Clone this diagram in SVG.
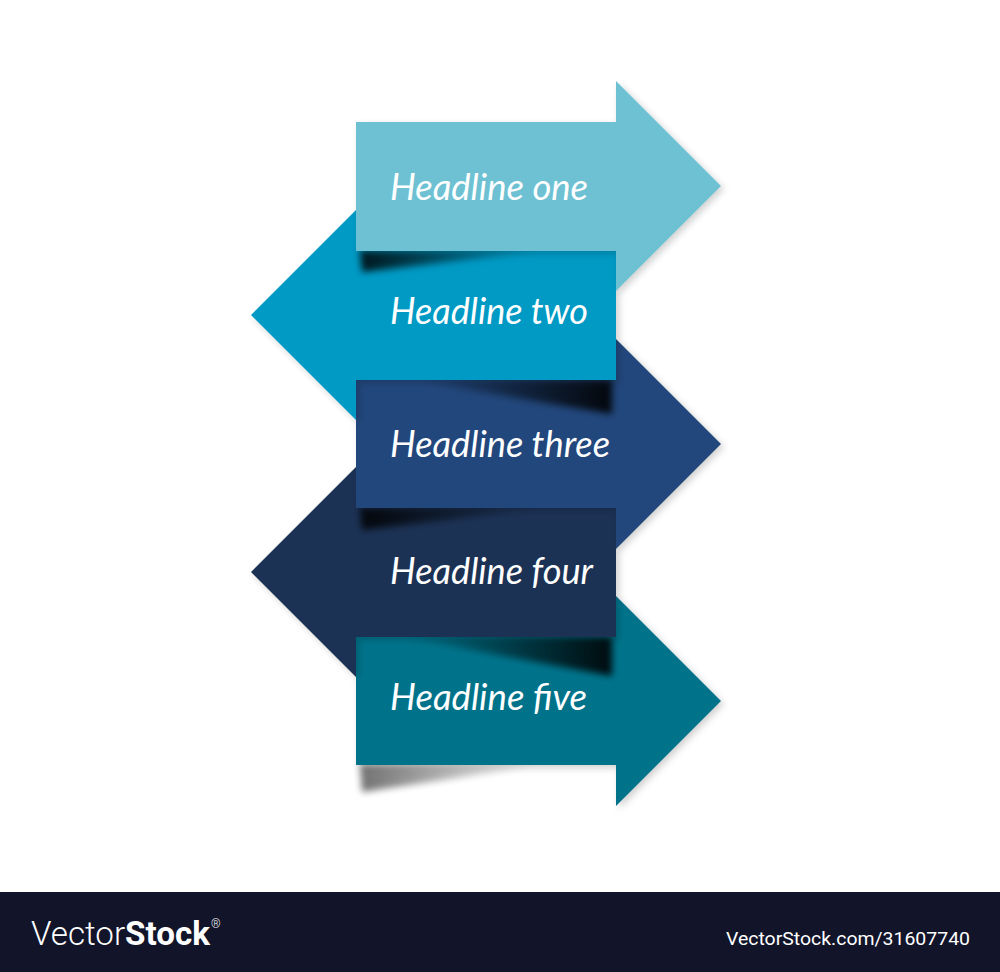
<svg xmlns="http://www.w3.org/2000/svg" width="1000" height="972" viewBox="0 0 1000 972">
  <style>
    .hl { font-family: Lato, "Open Sans", "Liberation Sans", sans-serif; font-style: italic; font-size: 36px; fill: #ffffff; }
    .logo { font-family: Roboto, "Liberation Sans", sans-serif; fill: #ffffff; }
  </style>
  <defs>
    <filter id="drop" x="-10%" y="-10%" width="130%" height="130%">
      <feDropShadow dx="3" dy="3" stdDeviation="3.5" flood-color="#000" flood-opacity="0.18"/>
    </filter>
    <filter id="blur" x="-20%" y="-60%" width="140%" height="220%">
      <feGaussianBlur stdDeviation="3.5"/>
    </filter>
    <linearGradient id="shL" x1="0" y1="0" x2="1" y2="0">
      <stop offset="0" stop-color="#000" stop-opacity="0.85"/>
      <stop offset="0.3" stop-color="#000" stop-opacity="0.6"/>
      <stop offset="1" stop-color="#000" stop-opacity="0"/>
    </linearGradient>
    <linearGradient id="shR" x1="0" y1="0" x2="1" y2="0">
      <stop offset="0" stop-color="#000" stop-opacity="0"/>
      <stop offset="0.6" stop-color="#000" stop-opacity="0.55"/>
      <stop offset="1" stop-color="#000" stop-opacity="0.9"/>
    </linearGradient>
  </defs>

  <rect x="0" y="0" width="1000" height="972" fill="#ffffff"/>

  <!-- Arrow 5 (bottom, drawn first) -->
  <g id="arrow5">
    <polygon points="360,765 545,765 362,792" fill="url(#shL)" filter="url(#blur)" opacity="0.65"/>
    <path d="M356,637 H616 V596 L721,701 L616,806 V765 H356 Z" fill="#06738b" filter="url(#drop)"/>
    <text class="hl" x="390" y="710" textLength="197" lengthAdjust="spacingAndGlyphs">Headline five</text>
  </g>

  <!-- Arrow 4 -->
  <g id="arrow4">
    <polygon points="400,637 612,637 612,676" fill="url(#shR)" filter="url(#blur)"/>
    <path d="M616,508 V637 H356 V677 L251,572 L356,467 V508 Z" fill="#1b3254" filter="url(#drop)"/>
    <text class="hl" x="390" y="584" textLength="203" lengthAdjust="spacingAndGlyphs">Headline four</text>
  </g>

  <!-- Arrow 3 -->
  <g id="arrow3">
    <polygon points="360,508 545,508 362,530" fill="url(#shL)" filter="url(#blur)"/>
    <path d="M356,380 H616 V339 L721,444 L616,549 V508 H356 Z" fill="#23467b" filter="url(#drop)"/>
    <text class="hl" x="390" y="457" textLength="220" lengthAdjust="spacingAndGlyphs">Headline three</text>
  </g>

  <!-- Arrow 2 -->
  <g id="arrow2">
    <polygon points="410,380 612,380 612,414" fill="url(#shR)" filter="url(#blur)"/>
    <path d="M616,251 V380 H356 V420 L251,315 L356,210 V251 Z" fill="#019ac5" filter="url(#drop)"/>
    <text class="hl" x="390" y="324" textLength="198" lengthAdjust="spacingAndGlyphs">Headline two</text>
  </g>

  <!-- Arrow 1 (top) -->
  <g id="arrow1">
    <polygon points="360,251 545,251 362,272" fill="url(#shL)" filter="url(#blur)"/>
    <path d="M356,122 H616 V81 L721,186 L616,291 V251 H356 Z" fill="#6dc1d3" filter="url(#drop)"/>
    <text class="hl" x="390" y="200" textLength="198" lengthAdjust="spacingAndGlyphs">Headline one</text>
  </g>

  <g id="connectors"></g>

  <!-- Footer bar -->
  <g id="footer">
    <rect x="0" y="892" width="1000" height="80" fill="#12142a"/>
    <text class="logo" x="31" y="945" font-size="34" textLength="179" lengthAdjust="spacingAndGlyphs"><tspan font-weight="300">Vector</tspan><tspan font-weight="700">Stock</tspan></text>
    <text class="logo" x="211" y="928" font-size="12" font-weight="300">®</text>
    <text class="logo" x="726" y="945" font-size="19" textLength="244" lengthAdjust="spacingAndGlyphs">VectorStock.com/31607740</text>
  </g>
</svg>
